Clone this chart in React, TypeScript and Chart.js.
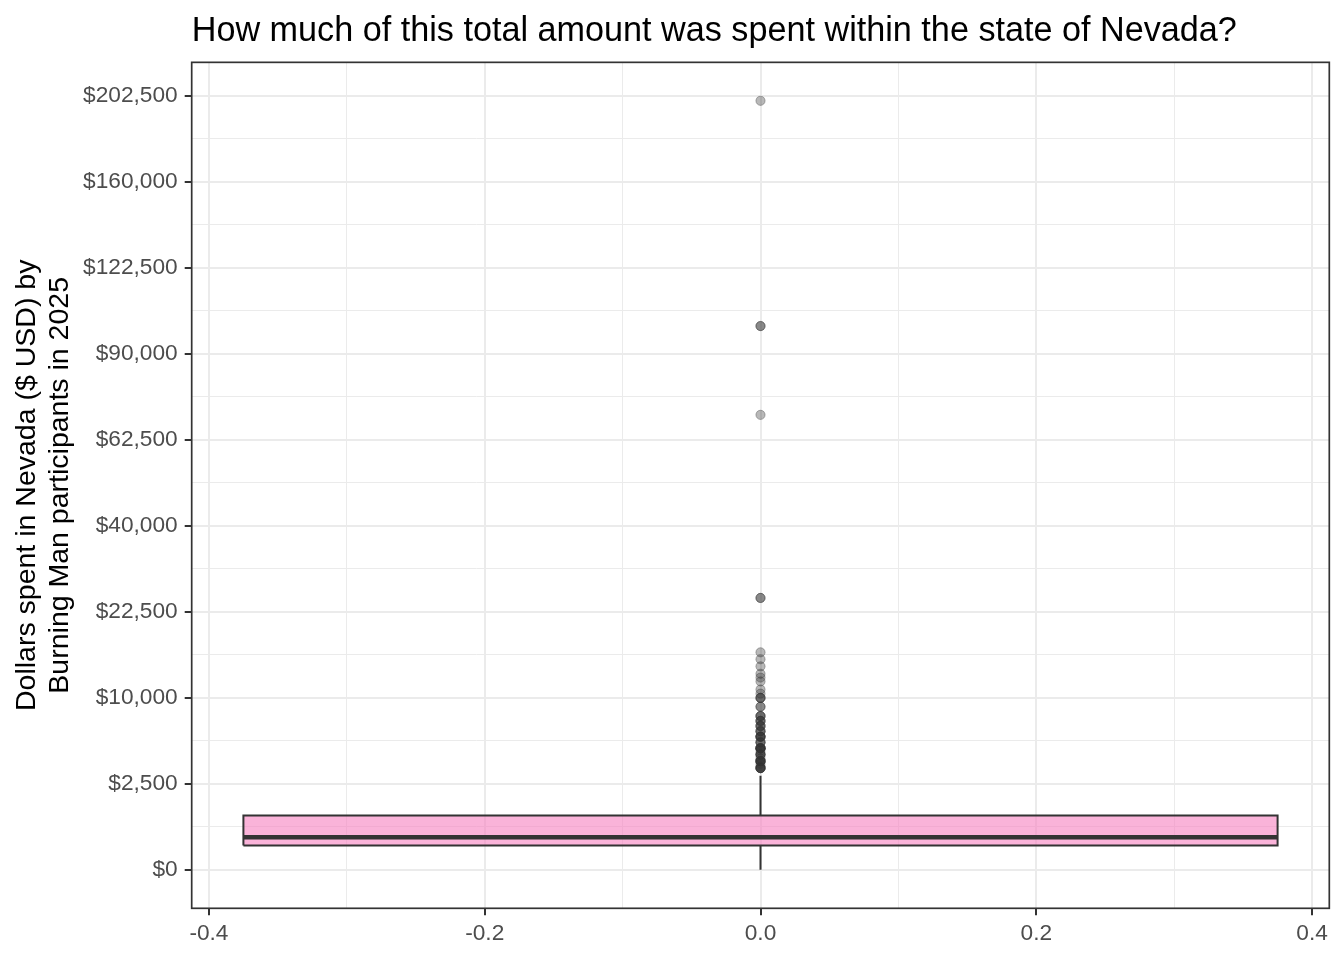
import React, { useEffect, useRef } from "react";
import { Chart, registerables } from "chart.js";

Chart.register(...registerables);

// ---------- data ----------
const chartTitle = "How much of this total amount was spent within the state of Nevada?";
const yAxisTitle = ["Dollars spent in Nevada ($ USD) by", "Burning Man participants in 2025"];

const groupX = 0;
const boxHalfWidth = 0.375;

const whiskerLow = 0;
const quartile1 = 200;
const medianValue = 360;
const quartile3 = 1000;
const whiskerHigh = 3000;

const outlierValues = [
  200000, 100000, 100000, 70000, 25000, 25000,
  16000, 15000, 14000, 13000, 12500, 12000, 11000, 10500,
  10000, 10000, 10000, 9000, 9000, 8000, 8000, 8000,
  7500, 7500, 7500, 7000, 7000, 7000, 6500, 6500, 6500, 6000, 6000, 6000, 6000, 6000,
  5500, 5500, 5500, 5000, 5000, 5000, 5000, 5000, 5000, 5000, 4800, 4500, 4500, 4500, 4500,
  4200, 4000, 4000, 4000, 4000, 4000, 4000, 3800, 3600, 3500, 3500, 3500, 3500, 3500,
];

const yTickDollars = [0, 2500, 10000, 22500, 40000, 62500, 90000, 122500, 160000, 202500];
const xTickValues = [-0.4, -0.2, 0, 0.2, 0.4];

// ---------- helpers ----------
const sq = (v: number) => Math.sqrt(v);

const allS = [whiskerLow, whiskerHigh, ...outlierValues].map(sq);
const sMin = Math.min(...allS);
const sMax = Math.max(...allS);
const sPad = (sMax - sMin) * 0.05;
const xPad = boxHalfWidth * 2 * 0.05;

function yTicks() {
  const major = yTickDollars.map((d) => ({ value: sq(d), dollars: d, minor: false }));
  const minor: any[] = [];
  for (let i = 0; i < major.length - 1; i++) {
    minor.push({ value: (major[i].value + major[i + 1].value) / 2, dollars: 0, minor: true });
  }
  return [...major, ...minor].sort((a, b) => a.value - b.value);
}

function xTicks() {
  const major = xTickValues.map((v) => ({ value: v, minor: false }));
  const minor: any[] = [];
  for (let i = 0; i < xTickValues.length - 1; i++) {
    minor.push({ value: (xTickValues[i] + xTickValues[i + 1]) / 2, minor: true });
  }
  return [...major, ...minor].sort((a, b) => a.value - b.value);
}

const FONT = "'Liberation Sans', Arial, sans-serif";
const DARK = "#333333";
const GRID = "#EBEBEB";
const PINK = "rgba(247,129,191,0.6)";
const OUTLIER = "rgba(51,51,51,0.35)";

const panelBorder = {
  id: "panelBorder",
  afterDraw(chart: any) {
    const { ctx, chartArea } = chart;
    ctx.save();
    ctx.strokeStyle = DARK;
    ctx.lineWidth = 1.7;
    ctx.strokeRect(chartArea.left, chartArea.top, chartArea.right - chartArea.left, chartArea.bottom - chartArea.top);
    ctx.restore();
  },
};

export default function App() {
  const canvasRef = useRef<HTMLCanvasElement | null>(null);

  useEffect(() => {
    if (!canvasRef.current) return;
    const xl = groupX - boxHalfWidth;
    const xr = groupX + boxHalfWidth;
    const lineDs = (data: any[], extra: any = {}) => ({
      type: "scatter",
      data,
      showLine: true,
      pointRadius: 0,
      borderColor: DARK,
      borderWidth: 2,
      fill: false,
      ...extra,
    });

    const chart = new Chart(canvasRef.current, {
      type: "scatter",
      data: {
        datasets: [
          lineDs([{ x: xl, y: sq(quartile1) }, { x: xr, y: sq(quartile1) }], { borderWidth: 0, borderColor: "rgba(0,0,0,0)", order: 6 }),
          lineDs([{ x: xl, y: sq(quartile3) }, { x: xr, y: sq(quartile3) }], {
            borderWidth: 0,
            borderColor: "rgba(0,0,0,0)",
            fill: "-1",
            backgroundColor: PINK,
            order: 5,
          }),
          lineDs([{ x: groupX, y: sq(whiskerLow) }, { x: groupX, y: sq(quartile1) }], { order: 4 }),
          lineDs([{ x: groupX, y: sq(quartile3) }, { x: groupX, y: sq(whiskerHigh) }], { order: 4 }),
          lineDs(
            [
              { x: xl, y: sq(quartile1) },
              { x: xr, y: sq(quartile1) },
              { x: xr, y: sq(quartile3) },
              { x: xl, y: sq(quartile3) },
              { x: xl, y: sq(quartile1) },
            ],
            { borderJoinStyle: "miter", order: 3 }
          ),
          lineDs([{ x: xl, y: sq(medianValue) }, { x: xr, y: sq(medianValue) }], { borderWidth: 4.5, order: 2 }),
          {
            type: "scatter",
            data: outlierValues.map((v) => ({ x: groupX, y: sq(v) })),
            pointRadius: 4.6,
            pointBackgroundColor: OUTLIER,
            pointBorderColor: OUTLIER,
            pointBorderWidth: 1,
            order: 1,
          },
        ] as any,
      },
      options: {
        animation: false,
        responsive: false,
        events: [],
        layout: { padding: { left: 0, top: 0, right: 14.7, bottom: 0 } },
        plugins: {
          legend: { display: false },
          tooltip: { enabled: false },
          title: {
            display: true,
            text: chartTitle,
            align: "start",
            fullSize: false,
            color: "#000000",
            font: { family: FONT, size: 34.2, weight: "normal", lineHeight: 1.2 },
            padding: { top: 11, bottom: 10.3 },
          },
        },
        scales: {
          x: {
            type: "linear",
            min: groupX - boxHalfWidth - xPad,
            max: groupX + boxHalfWidth + xPad,
            afterBuildTicks: (axis: any) => {
              axis.ticks = xTicks();
            },
            afterFit: (axis: any) => {
              axis.height = 51.7;
            },
            border: { display: false },
            grid: {
              color: GRID,
              lineWidth: (c: any) => (c.tick && c.tick.minor ? 1 : 2),
              tickColor: (c: any) => (c.tick && c.tick.minor ? "rgba(0,0,0,0)" : DARK),
              tickWidth: 2,
              tickLength: 7,
            },
            ticks: {
              autoSkip: false,
              maxRotation: 0,
              padding: 4.6,
              color: "#4D4D4D",
              font: { family: FONT, size: 22.7, lineHeight: 1.2 },
              callback: (value: any, index: number, ticks: any[]) =>
                ticks[index] && ticks[index].minor ? "" : Number(value).toFixed(1),
            },
          },
          y: {
            type: "linear",
            min: sMin - sPad,
            max: sMax + sPad,
            afterBuildTicks: (axis: any) => {
              axis.ticks = yTicks();
            },
            afterFit: (axis: any) => {
              axis.width = 191.7;
            },
            border: { display: false },
            grid: {
              color: GRID,
              lineWidth: (c: any) => (c.tick && c.tick.minor ? 1 : 2),
              tickColor: (c: any) => (c.tick && c.tick.minor ? "rgba(0,0,0,0)" : DARK),
              tickWidth: 2,
              tickLength: 7,
            },
            ticks: {
              autoSkip: false,
              padding: 7,
              color: "#4D4D4D",
              font: { family: FONT, size: 22.7, lineHeight: 1.2 },
              callback: (_value: any, index: number, ticks: any[]) => {
                const t = ticks[index];
                if (!t || t.minor) return "";
                return "$" + t.dollars.toLocaleString("en-US");
              },
            },
            title: {
              display: true,
              text: yAxisTitle,
              color: "#000000",
              font: { family: FONT, size: 28.5, lineHeight: 1.14 },
              padding: { top: 11, bottom: 0 },
            },
          },
        },
      } as any,
      plugins: [panelBorder],
    });
    return () => chart.destroy();
  }, []);

  return (
    <div style={{ position: "absolute", left: 0, top: 0, width: 1344, height: 960, background: "#ffffff" }}>
      <canvas ref={canvasRef} width={1344} height={960} style={{ width: 1344, height: 960, display: "block" }} />
    </div>
  );
}
